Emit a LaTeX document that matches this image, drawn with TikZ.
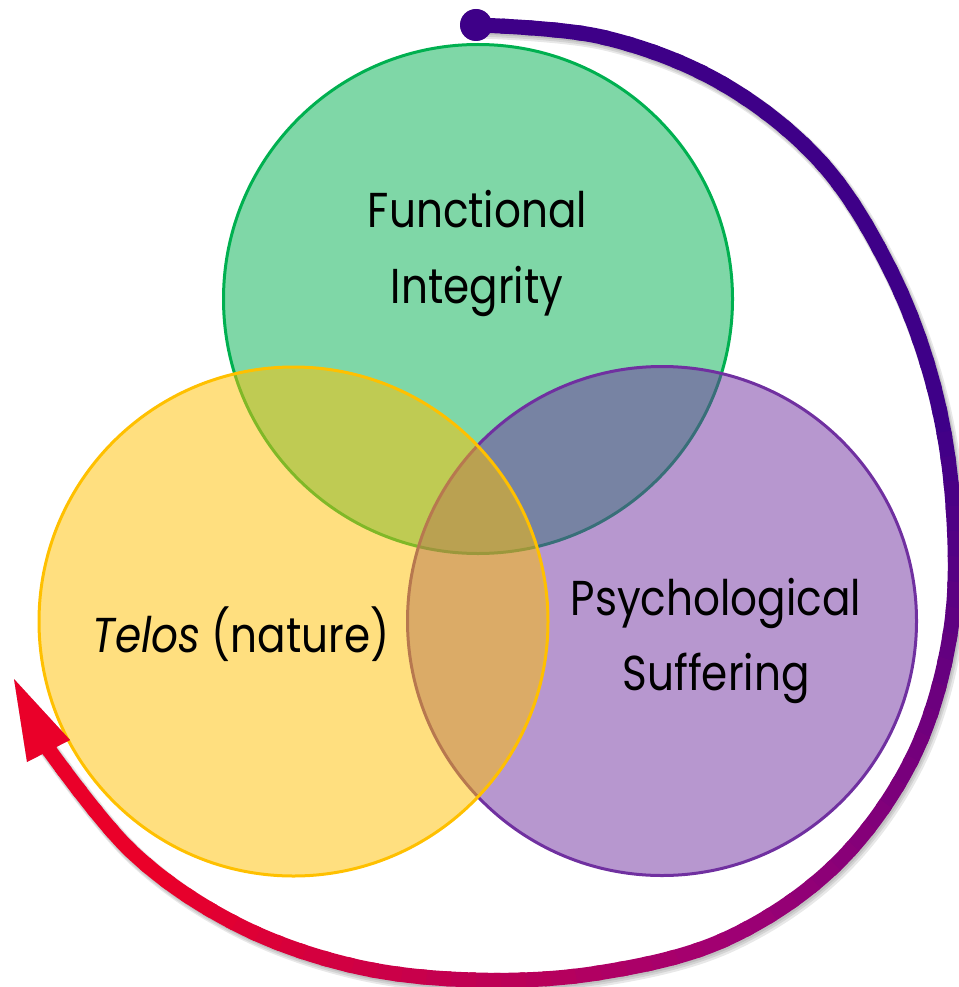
\documentclass[tikz,border=0pt]{standalone}
\usepackage{fontspec}
\setmainfont{Poppins}[FakeStretch=0.86]
\definecolor{gcol}{RGB}{0,176,80}
\definecolor{ycol}{RGB}{255,192,0}
\definecolor{pcol}{RGB}{112,48,160}
\definecolor{indc}{RGB}{62,0,136}
\definecolor{magc}{RGB}{160,0,115}
\definecolor{redc}{RGB}{234,0,41}
\tikzset{
  venn/.style={circle, minimum size=509pt, inner sep=0pt, line width=3pt, fill opacity=0.5},
  lbl/.style={anchor=base, inner sep=0pt, font=\fontsize{49}{58}\selectfont, text=black},
  arcline/.style={line width=15pt},
  arcshadow/.style={black, opacity=0.09},
}
\newcommand\arcpath{plot[smooth, tension=0.6] coordinates {(476,25) (602,37) (720.5,82.5) (820.4,161.6) (889,267.5) (933,383.6) (953,506) (950.3,633) (912.5,758) (835.2,865.2) (726,939) (601,972.5) (476,980) (352.8,965.8) (235,923.4) (131,851) (44,743)}}
\begin{document}
\begin{tikzpicture}[x=1pt,y=-1pt]
\useasboundingbox (0,0) rectangle (958,987);
% circles
\node[venn, draw=gcol, fill=gcol] (gcirc) at (478,299) {};
\node[venn, draw=pcol, fill=pcol] (pcirc) at (662,621) {};
\node[venn, draw=ycol, fill=ycol] (ycirc) at (293.5,621.5) {};
% labels
\node[lbl] (fn1) at (477.5,227) {Functional};
\node[lbl] (fn2) at (477,303) {Integrity};
\node[lbl] (tel) at (241,652) {\itshape Telos\upshape\ (nature)};
\node[lbl] (ps1) at (716,615) {Psychological};
\node[lbl] (ps2) at (716,690) {Suffering};
% arc
\coordinate (arcc) at (476,506);
\coordinate (arcstart) at (476,25);
\coordinate (arctip) at (14,679);
\coordinate (arcb1) at (27,762);
\coordinate (arcb2) at (70,740);
\foreach \sx/\sy/\sw in {2/3/17, 3/4/19, 1.5/2/15} {
  \begin{scope}[shift={(\sx,\sy)}]
    \draw[arcshadow, line width=\sw pt] \arcpath;
    \fill[arcshadow] (arcstart) circle[radius=16pt];
    \fill[arcshadow] (arctip) -- (arcb1) -- (arcb2) -- cycle;
  \end{scope}
}
\foreach \k in {0,...,83} {
  \pgfmathsetmacro\aA{-93+3*\k}
  \pgfmathsetmacro\aB{\aA+3.8}
  \pgfmathsetmacro\aM{\aA+1.5}
  \pgfmathsetmacro\pA{max(0,min(100,(\aM+10)/70*100))}
  \pgfmathsetmacro\pB{max(0,min(100,(\aM-60)/70*100))}
  \colorlet{tmpA}{magc!\pA!indc}
  \colorlet{segc}{redc!\pB!tmpA}
  \begin{scope}
    \clip (arcc) -- ([shift={(arcc)}]\aA:800) -- ([shift={(arcc)}]\aB:800) -- cycle;
    \draw[arcline, segc] \arcpath;
  \end{scope}
}
\fill[indc] (arcstart) circle[radius=16pt];
\fill[redc] (arctip) -- (arcb1) -- (arcb2) -- cycle;
\end{tikzpicture}
\end{document}
